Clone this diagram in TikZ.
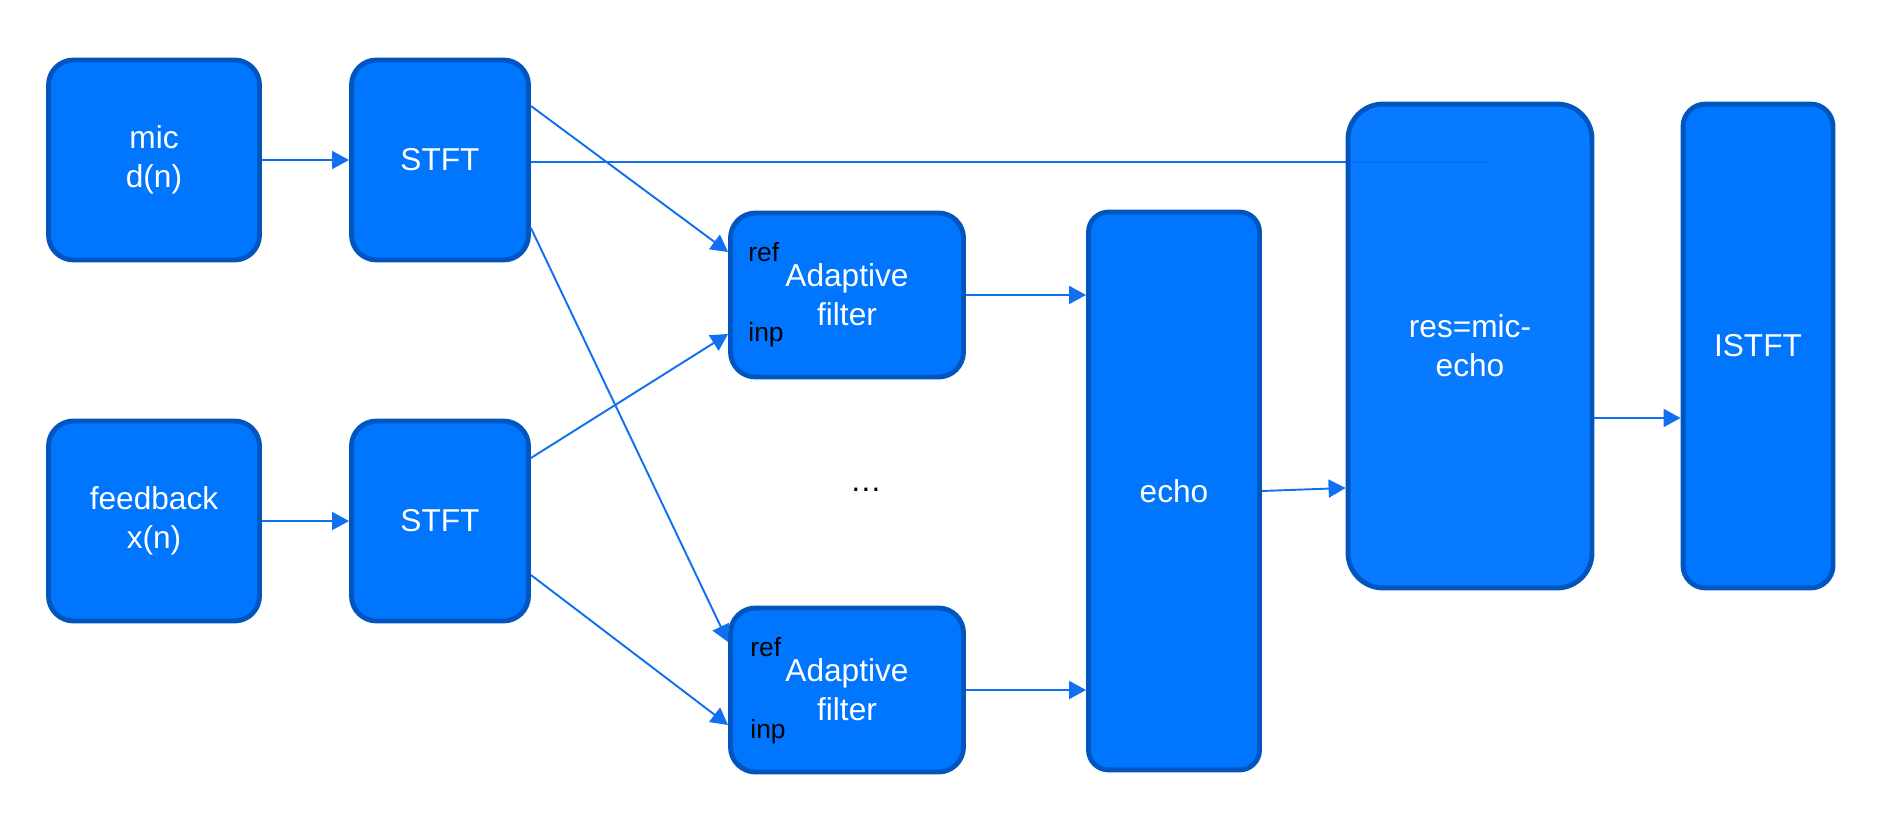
\documentclass[tikz,border=0pt]{standalone}
\usepackage{fontspec}
\setmainfont{Liberation Sans}
\usetikzlibrary{arrows.meta,calc,backgrounds}
\definecolor{caixa}{RGB}{0,118,255}
\definecolor{borda}{RGB}{0,86,190}
\definecolor{seta}{RGB}{16,112,240}

\begin{document}
\begin{tikzpicture}[x=0.02cm, y=-0.02cm,
    bloco/.style={draw=borda, fill=caixa, line width=2.8pt, rounded corners=0.5cm, text=white, align=center, inner sep=0pt, font=\fontsize{18}{22}\selectfont},
    rotulo/.style={font=\fontsize{15}{18}\selectfont, text=black, anchor=base west, inner sep=0pt},
    conexao/.style={draw=seta, line width=1.1pt, -{Triangle[length=0.34cm, width=0.36cm]}}]
            \useasboundingbox (0,0) rectangle (1885,830);
            % Entradas e STFT
            \node at (154,160) (mic) [bloco, minimum width=4.22cm, minimum height=4cm] {mic\\d(n)};
            \node at (440,160) (stft1) [bloco, minimum width=3.54cm, minimum height=4cm] {STFT};
            \node at (154,521) (feedback) [bloco, minimum width=4.22cm, minimum height=4cm] {feedback\\x(n)};
            \node at (440,521) (stft2) [bloco, minimum width=3.54cm, minimum height=4cm] {STFT};
            % Filtros adaptativos
            \node at (847,295) (af1) [bloco, minimum width=4.66cm, minimum height=3.28cm] {Adaptive\\filter};
            \node at (847,690) (af2) [bloco, minimum width=4.66cm, minimum height=3.28cm] {Adaptive\\filter};
            \node at ($(af1.west)+(20,-33)$) (ref1) [rotulo] {ref};
            \node at ($(af1.west)+(20,47)$) (inp1) [rotulo] {inp};
            \node at ($(af2.west)+(22,-34)$) (ref2) [rotulo] {ref};
            \node at ($(af2.west)+(22,48)$) (inp2) [rotulo] {inp};
            \node at (866,490) (dots) [font=\fontsize{18}{22}\selectfont] {…};
            % Saida
            \node at (1174,491) (echo) [bloco, rounded corners=0.4cm, minimum width=3.42cm, minimum height=11.16cm] {echo};
            \node at (1470,346) (res) [bloco, rounded corners=0.7cm, fill opacity=0.97, text opacity=1, minimum width=4.88cm, minimum height=9.68cm] {res=mic-\\echo};
            \node at (1758,346) (istft) [bloco, rounded corners=0.45cm, minimum width=3cm, minimum height=9.68cm] {ISTFT};
            \coordinate (resin) at (1490,162);
            \begin{scope}[on background layer]
                \draw[seta, line width=1.1pt] ($(stft1.east)+(0,2)$) -- (resin);
            \end{scope}
            \draw[conexao] (mic) -- (stft1);
            \draw[conexao] (feedback) -- (stft2);
            \draw[conexao] ($(stft1.east)+(0,-54)$) -- ($(af1.west)+(0,-43)$);
            \draw[conexao] ($(stft1.east)+(0,68)$) -- ($(af2.west)+(0,-48)$);
            \draw[conexao] ($(stft2.east)+(0,-63)$) -- ($(af1.west)+(0,39)$);
            \draw[conexao] ($(stft2.east)+(0,54)$) -- ($(af2.west)+(0,35)$);
            \draw[conexao] (af1.east) -- (af1.east -| echo.west);
            \draw[conexao] (af2.east) -- (af2.east -| echo.west);
            \draw[conexao] (echo.east) -- ($(res.west)+(0,142)$);
            \draw[conexao] ($(res.east)+(0,72)$) -- ($(istft.west)+(0,72)$);
        \end{tikzpicture}
\end{document}
